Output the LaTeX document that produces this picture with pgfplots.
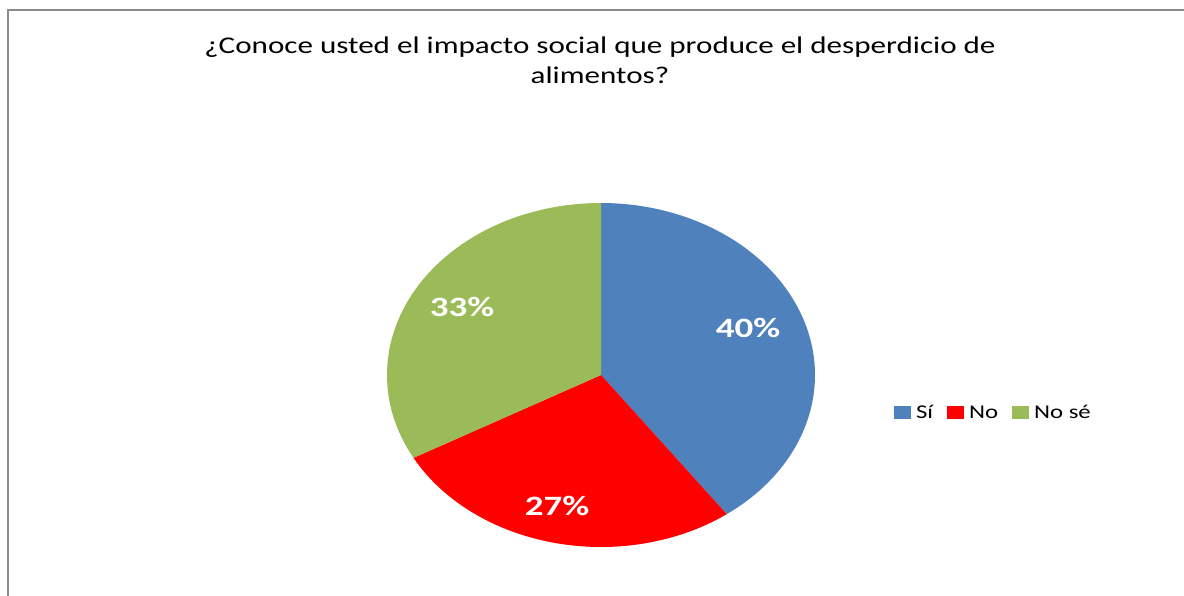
\documentclass[border=0pt]{standalone}
\usepackage{pgfplots}
\pgfplotsset{compat=1.18}
\usepackage{pgfplotstable}
\usepackage{fontspec}
\setmainfont{Carlito}
\definecolor{siblue}{HTML}{4F81BD}
\definecolor{nored}{HTML}{FF0000}
\definecolor{nosegreen}{HTML}{9BBB59}
\definecolor{framegray}{HTML}{8C8C8C}
\pgfplotstableread{
label pct
Si 40
No 27
NoSe 33
}\piedata
\begin{document}
\begin{tikzpicture}
\begin{axis}[
  width=1184bp, height=596bp, scale only axis,
  xmin=0, xmax=1184, ymin=0, ymax=596,
  hide axis, clip=false,
  area legend,
  legend image code/.code={\fill[#1] (0bp,-6.5bp) rectangle (17bp,6.5bp);},
  legend style={at={(axis cs:894,183.5)}, anchor=west, draw=none, fill=none,
    legend columns=-1, inner sep=0pt, outer sep=0pt,
    font=\fontsize{19.5bp}{20bp}\selectfont,
    nodes={inner sep=0pt, outer sep=0pt},
    /tikz/every odd column/.append style={column sep=5bp},
    /tikz/every even column/.append style={column sep=14bp}},
]
\pgfplotstablegetelem{0}{pct}\of\piedata \pgfmathsetmacro\vA{\pgfplotsretval}
\pgfplotstablegetelem{1}{pct}\of\piedata \pgfmathsetmacro\vB{\pgfplotsretval}
\pgfplotstablegetelem{2}{pct}\of\piedata \pgfmathsetmacro\vC{\pgfplotsretval}
\pgfmathsetmacro\aA{90}
\pgfmathsetmacro\aB{\aA-3.6*\vA}
\pgfmathsetmacro\aC{\aB-3.6*\vB}
\pgfmathsetmacro\aD{\aC-3.6*\vC}
\addplot[fill=siblue, draw=none, domain=\aB:\aA, samples=120]
  ({601+214*cos(x)},{221+172*sin(x)}) -- (axis cs:601,221) -- cycle;
\addlegendentry{\scalebox{1.27}[1]{Sí}}
\addplot[fill=nored, draw=none, domain=\aC:\aB, samples=90]
  ({601+214*cos(x)},{221+172*sin(x)}) -- (axis cs:601,221) -- cycle;
\addlegendentry{\scalebox{1.27}[1]{No}}
\addplot[fill=nosegreen, draw=none, domain=\aD:\aC, samples=100]
  ({601+214*cos(x)},{221+172*sin(x)}) -- (axis cs:601,221) -- cycle;
\addlegendentry{\scalebox{1.27}[1]{No sé}}
\node[white, font=\fontsize{28bp}{30bp}\selectfont\bfseries, xscale=1.32] at (axis cs:748,268) {40\%};
\node[white, font=\fontsize{28bp}{30bp}\selectfont\bfseries, xscale=1.32] at (axis cs:557,90) {27\%};
\node[white, font=\fontsize{28bp}{30bp}\selectfont\bfseries, xscale=1.32] at (axis cs:462,289) {33\%};
\node[anchor=base, xscale=1.295, font=\fontsize{24bp}{30bp}\selectfont, inner sep=0pt] at (axis cs:600,542) {¿Conoce usted el impacto social que produce el desperdicio de};
\node[anchor=base, xscale=1.295, font=\fontsize{24bp}{30bp}\selectfont, inner sep=0pt] at (axis cs:600,512) {alimentos?};
\draw[framegray, line width=2bp] (axis cs:8.3,0) -- (axis cs:8.3,585.5) -- (axis cs:1184,585.5);
\end{axis}
\pgfresetboundingbox
\path (0,0) rectangle (1184bp,596bp);
\end{tikzpicture}
\end{document}
